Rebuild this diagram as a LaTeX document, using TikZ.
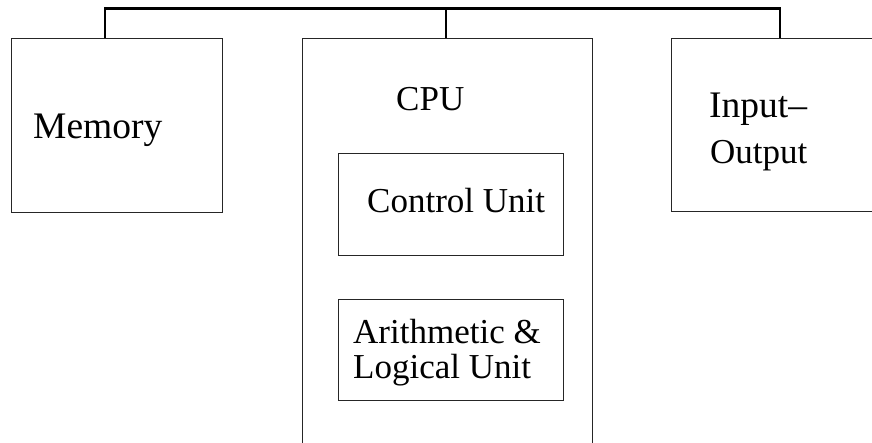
\documentclass[tikz,border=0pt]{standalone}
\usepackage{fontspec}
\setmainfont{Liberation Serif}
\tikzset{
  unitbox/.style={draw=black!85, line width=1pt, rectangle, inner sep=0pt, anchor=north west},
  bus/.style={draw=black, line width=2.6pt},
  lbl/.style={anchor=base west, inner sep=0pt, font=\fontsize{35}{35}\selectfont},
  biglbl/.style={lbl, font=\fontsize{37.5}{37.5}\selectfont},
}
\begin{document}
\begin{tikzpicture}[x=1pt, y=-1pt]
  \clip (0,0) rectangle (872,442);
  % top-level units
  \node[unitbox, minimum width=211pt, minimum height=174pt] (mem) at (11,37.5) {};
  \node[unitbox, minimum width=290pt, minimum height=430pt] (cpu) at (302,37.5) {};
  \node[unitbox, minimum width=230pt, minimum height=173.5pt] (io) at (671,37.5) {};
  % units inside the CPU
  \node[unitbox, minimum width=224.7pt, minimum height=101.7pt] (cu) at (338,153.3) {};
  \node[unitbox, minimum width=224.7pt, minimum height=101.3pt] (alu) at (338,298.7) {};
  % labels
  \node[biglbl] (memlbl) at (33,138) {Memory};
  \node[lbl] (cpulbl) at (396,110) {CPU};
  \node[biglbl] (iolbla) at (709,117) {Input–};
  \node[lbl] (iolblb) at (710,163) {Output};
  \node[lbl] (culbl) at (367,212) {Control Unit};
  \node[lbl] (alulbla) at (353,343) {Arithmetic \&};
  \node[lbl] (alulblb) at (353,378) {Logical Unit};
  % system bus
  \coordinate (busL) at (105,8.5);
  \coordinate (busM) at (446,8.5);
  \coordinate (busR) at (780,8.5);
  \draw[bus] (mem.north -| busL) -- (busL) -- (busR) -- (io.north -| busR);
  \draw[bus] (cpu.north -| busM) -- (busM);
\end{tikzpicture}
\end{document}
